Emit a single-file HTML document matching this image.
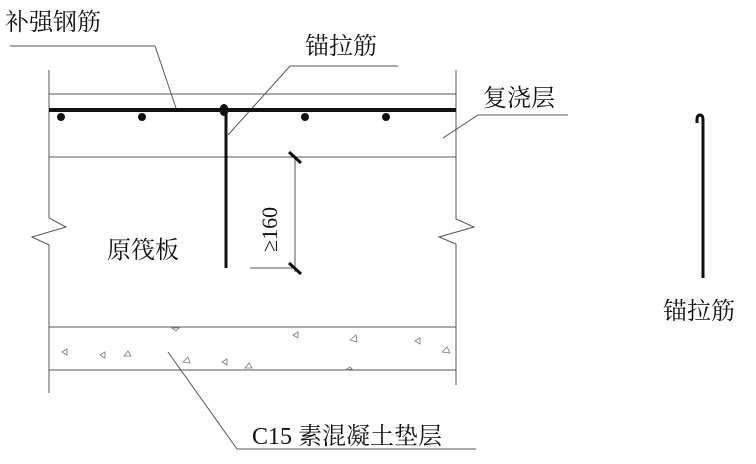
<!DOCTYPE html>
<html><head><meta charset="utf-8"><style>
html,body{margin:0;padding:0;background:#fff;width:756px;height:464px;overflow:hidden}
text{font-family:"Liberation Serif","Noto Serif CJK SC","Noto Sans CJK SC",serif;fill:#111}
</style></head><body>
<svg width="756" height="464" viewBox="0 0 756 464" xmlns="http://www.w3.org/2000/svg">
<g stroke="#555" stroke-width="1" fill="none">
<polyline points="49,70 49,218 66,227 32,237 49,245 49,393"/>
<polyline points="456,70 456,219 474,227 439,237 456,244 456,385"/>
<line x1="49" y1="94" x2="456" y2="94"/>
<line x1="49" y1="157" x2="456" y2="157"/>
<line x1="49" y1="327" x2="456" y2="327"/>
<line x1="49" y1="370" x2="456" y2="370"/>
<polyline points="10,46 155,46 176,108"/>
<polyline points="398,66 290,66 228,135"/>
<polyline points="568,115 478,115 443,138"/>
<polyline points="168,352 237,449 476,449"/>
<line x1="295" y1="157" x2="295" y2="272"/>
<line x1="250" y1="268" x2="295" y2="268"/>
</g>
<g fill="none" stroke="#777" stroke-width="0.8">
<path d="M62,352 l5,-3 0,6z M100,355 l5,-3 0,6z M124,356 l4,-5 3,5z M183,362 l5,-5 2,6z M222,362 l5,-3 0,6z M245,368 l4,-5 3,5z M293,335 l5,-3 0,6z M350,340 l6,-5 1,7z M415,341 l5,-3 0,6z M442,352 l5,-5 3,6z M345,370 l5,-3 2,2z M172,328 l4,3 3,-3z"/>
</g>
<line x1="49" y1="110" x2="456" y2="110" stroke="#111" stroke-width="4"/>
<g fill="#111">
<circle cx="61" cy="117" r="4"/><circle cx="142" cy="117" r="4"/>
<circle cx="305" cy="117" r="4"/><circle cx="386" cy="117" r="4"/>
<ellipse cx="224" cy="110" rx="4.5" ry="6"/>
</g>
<line x1="226" y1="112" x2="226" y2="268" stroke="#111" stroke-width="3"/>
<g stroke="#111" stroke-width="3">
<line x1="289" y1="152" x2="301" y2="163"/>
<line x1="289" y1="263" x2="301" y2="274"/>
</g>
<path d="M703,278 L703,120 Q703,115 700,115 Q697,115 697,120 L697,123" fill="none" stroke="#111" stroke-width="3"/>
<text x="5" y="30" font-size="24">补强钢筋</text>
<text x="305" y="54" font-size="24">锚拉筋</text>
<text x="483" y="106" font-size="24">复浇层</text>
<text x="107" y="258" font-size="24">原筏板</text>
<text x="252" y="444" font-size="24">C15 素混凝土垫层</text>
<text x="663" y="319" font-size="24">锚拉筋</text>
<text transform="translate(277,252) rotate(-90)" font-size="22">≥160</text>
</svg>
</body></html>
